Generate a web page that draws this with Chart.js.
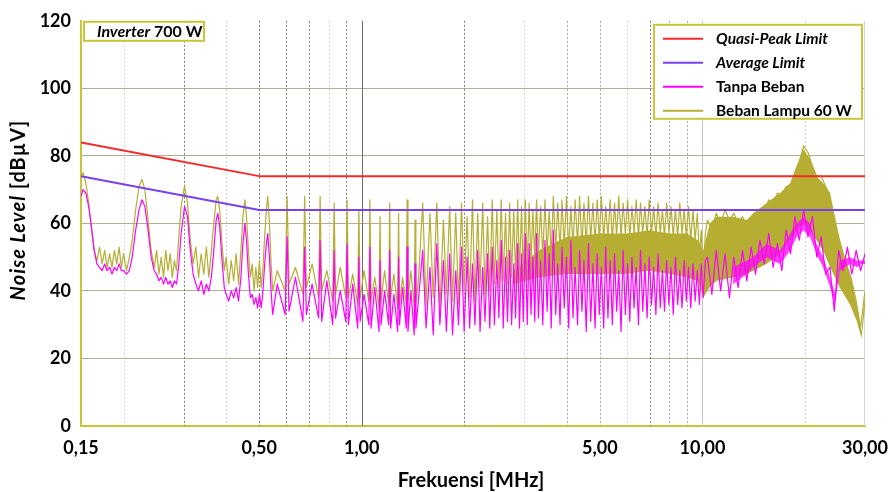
<!DOCTYPE html>
<html><head><meta charset="utf-8">
<script src="https://cdn.jsdelivr.net/npm/chart.js@4.4.1/dist/chart.umd.min.js"></script>
<style>html,body{margin:0;padding:0;background:#fff;}canvas{display:block;}</style>
</head><body>
<canvas id="c" width="893" height="492" style="width:893px;height:492px"></canvas>
<script>
// ---------- DATA ----------
const xTickLabels = [0.15, 0.5, 1, 5, 10, 30];
const yMin = 0, yMax = 120, yStep = 20;
const gridLight = [0.2, 0.4, 0.8, 3, 6, 20];
const gridMedium = [4, 5, 8, 9];
const gridDark = [0.3, 0.5, 0.6, 0.7, 0.9, 2, 7];
const gridSolidLight = [10];
const gridSolidDark = [1];

const legendLabels = ['Quasi-Peak Limit', 'Average Limit', 'Tanpa Beban', 'Beban Lampu 60 W'];
const legendItalic = [true, true, false, false];
const boxLabel = [['Inverter', true], [' 700 W', false]];
const yTitle = [['Noise Level', true], [' [dB\u00B5V]', false]];
const xTitle = 'Frekuensi [MHz]';

// limits
const limitFreq = [0.15, 0.5, 30];
const qpLimit = [84, 74, 74];
const avgLimit = [74, 64, 64];

// frequency points (MHz)
const freqLow = [0.150,0.152,0.155,0.158,0.161,0.164,0.167,0.170,0.173,0.176,
 0.179,0.182,0.185,0.188,0.191,0.194,0.197,0.200,0.204,0.208,
 0.212,0.217,0.222,0.2265,0.231,0.236,0.241,0.246,0.250,0.254,
 0.258,0.262,0.266,0.270,0.274,0.278,0.282,0.286,0.290,0.295,
 0.302,0.308,0.314,0.320,0.326,0.332,0.338,0.344,0.350,0.356,
 0.362,0.368,0.374,0.378,0.383,0.389,0.395,0.400,0.407,0.414,
 0.421,0.428,0.435,0.442,0.448,0.454,0.459,0.465,0.471,0.477,
 0.483,0.489,0.495,0.501,0.507,0.513,0.519,0.525,0.530,0.536,
 0.542,0.548,0.565];
const freqMid1 = [0.596,0.604,0.612,0.639, 0.672,0.680,0.688,0.715, 0.747,0.755,0.763,0.790,
 0.822,0.830,0.838,0.865, 0.898,0.906,0.914,0.941, 0.973,0.981,0.989,1.016,
 1.049,1.057,1.065,1.092, 1.124,1.132,1.140,1.167, 1.200,1.208,1.216,1.243,
 1.275,1.283,1.291,1.318, 1.351,1.359,1.367,1.394, 1.426,1.434,1.442,1.469];
const freqMid2 = [1.510,1.545,1.586,1.621,1.661,1.696,1.737,1.772,1.812,1.847,
 1.888,1.923,1.963,1.998,2.039,2.074,2.114,2.149,2.190,2.225,
 2.265,2.300,2.341,2.376,2.416,2.451,2.492,2.527,2.567,2.602,
 2.643,2.678,2.718,2.753,2.794,2.829,2.869,2.904,2.945,2.980, 3.020];
const freqHigh1 = [3.06,3.10,3.14,3.18,3.22,3.26,3.30,3.35,3.40,3.45,
 3.50,3.55,3.60,3.65,3.71,3.76,3.82,3.87,3.93,3.99,
 4.05,4.11,4.17,4.23,4.30,4.36,4.43,4.49,4.56,4.63,
 4.70,4.77,4.84,4.91,4.98,5.05,5.13,5.20,5.28,5.36,
 5.44,5.52,5.60,5.68,5.77,5.85,5.94,6.03,6.12,6.21,
 6.30,6.39,6.49,6.58,6.68,6.78,6.88,6.98,7.09,7.19,
 7.30,7.41,7.52,7.63,7.74,7.85,7.97,8.09,8.21,8.33,
 8.46,8.58,8.71,8.84,8.97,9.10,9.24,9.38,9.52,9.66,
 9.80,9.92,10.05,10.20];
const freqHigh2 = [10.35,10.66,10.98,11.31,11.65,12.0,12.36,12.73,13.11,13.5,
 13.9,14.32,14.75,15.19,15.65,16.12,16.6,17.1,17.61,18.14,
 18.68,19.24,19.82,20.41,21.03,21.66,22.31,22.98,23.67,24.38,
 25.11,25.86,26.64,27.44,28.26,29.11,30.0];

// Tanpa Beban (dBuV)
const tanpaLow = [68,70,69,65,59,52,48,47,46,48, 46,47,45,47,46,48,46,46,45,46,
 50,58,64,67,65,58,50,46,45,43, 44,42,44,42,43,41,43,42,47,57,
 65,62,52,45,42,40,43,39,42,40, 44,52,61,63,59,49,41,39,37,40,
 38,41,37,44,54,60,55,45,38,39, 36,38,35,39,35,40,48,54,57,50, 40,33,42];
const tanpaMid1 = [33,56,34,44, 31,53,33,42, 32,55,31,43, 30,52,32,40, 31,54,30,42, 29,50,31,39,
 30,53,29,41, 28,49,30,40, 30,52,29,39, 28,50,30,41, 29,53,28,40, 27,48,29,38];
const tanpaMid2 = [52,29,47,27,54,30,49,28,51,27, 46,30,53,28,50,29,48,30,52,28,
 47,31,51,29,53,30,49,32,55,29, 50,31,52,30,48,32,54,29,51,31, 57];
const tanpaHigh1 = [30,54,33,50,31,57,32,49,30,55, 34,51,29,58,33,48,30,53,35,50,
 29,55,32,47,30,52,34,49,28,54, 31,48,29,51,33,47,29,53,32,49,
 30,51,34,46,28,52,33,48,31,50, 35,47,30,52,34,48,32,50,36,47,
 33,51,35,46,34,49,36,47,33,50, 36,46,35,49,37,47,35,48,37,46,
 36,48,38,49];
const tanpaHigh2 = [50,39,52,40,51,38,50,41,52,43, 53,45,55,48,57,47,54,46,58,51,
 62,55,64,56,62,50,56,45,47,34, 52,46,53,45,52,46,51];

// Beban Lampu 60 W (dBuV)
const lampuLow = [74,75,72,66,58,52,49,53,48,52, 47,51,47,52,48,53,47,51,46,50,
 55,64,71,73,70,61,52,47,52,45, 50,44,52,46,51,44,49,46,55,65,
 71,66,55,48,53,44,51,45,53,44, 52,60,67,68,64,54,46,50,42,49,
 43,51,42,52,62,67,62,52,44,48, 40,47,41,49,41,47,56,64,68,60, 48,40,46];
const lampuMid1 = [40,68,42,47, 39,68,41,48, 38,68,40,46, 37,66,39,47, 38,67,38,45, 36,64,38,46,
 37,67,37,44, 35,62,37,46, 36,66,38,45, 35,63,36,44, 36,67,37,46, 35,61,36,44];
const lampuMid2 = [66,36,63,38,66,35,61,39,65,37, 63,36,66,40,62,38,67,37,63,41,
 66,39,62,40,67,42,64,41,67,43, 63,42,66,44,64,43,67,45,65,44, 67];
const lampuHigh1 = [47,66,48,64,49,67,50,65,50,67, 51,64,50,68,52,66,52,67,53,68,
 52,65,53,67,54,68,53,66,54,68, 55,66,54,67,55,68,55,65,56,67,
 55,66,56,68,56,66,57,67,56,65, 57,67,56,66,57,65,56,67,57,65,
 56,66,57,64,56,66,57,65,56,64, 56,66,57,64,56,65,55,64,55,63,
 50,58,44,57];
const lampuHigh2 = [61,58,63,60,64,61,63,60,62,59, 62,61,64,63,67,66,69,68,71,71,
 75,78,83,81,77,74,74,71,68,62, 56,51,47,43,37,29,40];

// dense-band envelopes above 3 MHz (Beban Lampu 60 W)
const bandFreq = [2.8,3.3,4.0,5.0,6.0,7.0,8.0,9.0,9.7,10.05, 10.5,11.0,12.3,13.5,14.1,15.4,16.9,18.1,18.9,19.8,
 20.7,21.6,22.6,23.7,24.5,25.3,27.1,28.4,29.3,30];
const lampuBandTop = [46,52,56,57,57,58,57,57,55,52, 60,62,62,61,63,66,69,72,77,82, 79,74,72,69,61,55,45,36,28,40];
const lampuBandBottom = [42,44,45,45,45,46,45,44,43,38, 41,43,44,45,46,48,51,55,58,60, 58,55,52,47,44,41,36,31,26,35];
// dense core of Tanpa Beban above 12 MHz
const tanpaBandFreq = [12.3,13.5,14.1,15.4,16.9,18.1,18.9,19.8,20.7,21.6,22.6,23.7,24.5,25.3,27.1,28.4,29.3,30];
const tanpaBandTop = [47,49,50,54,52,57,60,62,60,54,50,44,39,49,50,49,49,49];
const tanpaBandBottom = [42,45,47,50,48,52,56,58,56,51,47,41,36,46,48,47,48,48];

// ---------- BUILD ----------
const freqAll = [...freqLow, ...freqMid1, ...freqMid2, ...freqHigh1, ...freqHigh2];
const tanpaAll = [...tanpaLow, ...tanpaMid1, ...tanpaMid2, ...tanpaHigh1, ...tanpaHigh2];
const lampuAll = [...lampuLow, ...lampuMid1, ...lampuMid2, ...lampuHigh1, ...lampuHigh2];
const pts = (xs, ys) => xs.map((f, i) => ({x: f, y: ys[i]}));

const FONT = "Lato, 'Open Sans', sans-serif";
const RED = '#f52a2a', PURPLE = '#7a40ee', MAGENTA = '#ff00ff', OLIVE = '#b6ae33';
const FRAME = '#c8c638', HGRID = '#b0ae96';
const seriesColors = [RED, PURPLE, MAGENTA, OLIVE];

const line = (label, data, color, w, order, extra) => Object.assign({
  label, data, borderColor: color, borderWidth: w, pointRadius: 0, pointHoverRadius: 0,
  tension: 0, fill: false, order, borderJoinStyle: 'round'
}, extra || {});

const decor = {
  id: 'decor',
  beforeDatasetsDraw(chart) {
    const {ctx, chartArea: a, scales: {x}} = chart;
    ctx.save();
    const draw = (vals, color, dash) => {
      ctx.strokeStyle = color; ctx.lineWidth = 1; ctx.setLineDash(dash);
      vals.forEach(v => {
        const px = Math.round(x.getPixelForValue(v)) + 0.5;
        ctx.beginPath(); ctx.moveTo(px, a.top); ctx.lineTo(px, a.bottom); ctx.stroke();
      });
    };
    draw(gridLight, '#d2d2d2', [2, 2]);
    draw(gridMedium, '#a6a6a6', [2, 2]);
    draw(gridDark, '#7c7c7c', [2, 2]);
    draw(gridSolidLight, '#c4c4bc', []);
    draw(gridSolidDark, '#6c6c6c', []);
    ctx.setLineDash([]);
    ctx.strokeStyle = '#d4d4cc';
    ctx.beginPath(); ctx.moveTo(a.right - 0.5, a.top); ctx.lineTo(a.right - 0.5, a.bottom); ctx.stroke();
    ctx.restore();
  },
  afterDraw(chart) {
    const {ctx, chartArea: a} = chart;
    ctx.save();
    // label box
    const bx = a.left + 2, by = a.top, bw = 122, bh = 21;
    ctx.fillStyle = '#fff'; ctx.fillRect(bx, by, bw, bh);
    ctx.strokeStyle = FRAME; ctx.lineWidth = 2; ctx.strokeRect(bx + 1, by + 1, bw - 2, bh - 2);
    ctx.fillStyle = '#000'; ctx.textBaseline = 'middle'; ctx.textAlign = 'left';
    let tx = bx + 14;
    boxLabel.forEach(([t, it]) => {
      ctx.font = (it ? 'italic ' : '') + 'bold 16px ' + FONT;
      ctx.fillText(t, tx, by + bh / 2 + 0.5); tx += ctx.measureText(t).width;
    });
    // legend
    const lw = 210, lh = 96, lx = a.right - 2 - lw, ly = a.top + 3;
    ctx.fillStyle = '#fff'; ctx.fillRect(lx, ly, lw, lh);
    ctx.strokeStyle = FRAME; ctx.lineWidth = 2; ctx.strokeRect(lx + 1, ly + 1, lw - 2, lh - 2);
    legendLabels.forEach((t, i) => {
      const yy = ly + 15 + i * 24;
      ctx.strokeStyle = seriesColors[i]; ctx.lineWidth = 2;
      ctx.beginPath(); ctx.moveTo(lx + 10, yy); ctx.lineTo(lx + 50, yy); ctx.stroke();
      ctx.fillStyle = '#000';
      ctx.font = (legendItalic[i] ? 'italic ' : '') + 'bold 15.5px ' + FONT;
      ctx.fillText(t, lx + 63, yy + 0.5);
    });
    // y title
    ctx.save();
    ctx.translate(18.5, 210);
    ctx.rotate(-Math.PI / 2);
    ctx.letterSpacing = '1px';
    let total = 0;
    yTitle.forEach(([t, it]) => { ctx.font = (it ? 'italic ' : '') + 'bold 20px ' + FONT; total += ctx.measureText(t).width; });
    let yx = -total / 2;
    yTitle.forEach(([t, it]) => {
      ctx.font = (it ? 'italic ' : '') + 'bold 20px ' + FONT;
      ctx.fillText(t, yx, 0); yx += ctx.measureText(t).width;
    });
    ctx.restore();
    // x title
    ctx.font = 'bold 20px ' + FONT; ctx.textAlign = 'center';
    ctx.fillText(xTitle, (a.left + a.right) / 2 - 2, 481);
    ctx.restore();
  }
};

new Chart(document.getElementById('c'), {
  type: 'line',
  data: {
    datasets: [
      line(legendLabels[0], pts(limitFreq, qpLimit), RED, 2, 0),
      line(legendLabels[1], pts(limitFreq, avgLimit), PURPLE, 2, 1),
      line(legendLabels[2], pts(freqAll, tanpaAll), MAGENTA, 1.2, 2),
      line('tanpa-band', pts(tanpaBandFreq, tanpaBandTop), 'transparent', 1, 3, {fill: 4, backgroundColor: 'rgba(255,0,255,0.75)'}),
      line('tanpa-band-low', pts(tanpaBandFreq, tanpaBandBottom), 'transparent', 1, 4),
      line(legendLabels[3], pts(freqAll, lampuAll), OLIVE, 1.2, 5),
      line('lampu-band', pts(bandFreq, lampuBandTop), 'transparent', 1, 6, {fill: 7, backgroundColor: OLIVE}),
      line('lampu-band-low', pts(bandFreq, lampuBandBottom), 'transparent', 1, 7)
    ]
  },
  options: {
    responsive: false, animation: false, devicePixelRatio: 1,
    layout: {padding: {left: 0, right: 28, top: 17, bottom: 0}},
    plugins: {legend: {display: false}, tooltip: {enabled: false}},
    scales: {
      x: {
        type: 'logarithmic', min: 0.15, max: 30,
        afterBuildTicks: s => { s.ticks = xTickLabels.map(v => ({value: v})); },
        afterFit: s => { s.height = 66; s.paddingLeft = 0; s.paddingRight = 0; },
        ticks: {autoSkip: false, maxRotation: 0, padding: 11, color: '#000',
          font: {family: FONT, size: 18, weight: 'bold'},
          callback: v => Number(v).toFixed(2).replace('.', ',')},
        grid: {display: false, drawTicks: false},
        border: {display: true, color: FRAME, width: 2}
      },
      y: {
        min: yMin, max: yMax,
        afterFit: s => { s.width = 81; },
        ticks: {stepSize: yStep, padding: 10, color: '#000', font: {family: FONT, size: 18, weight: 'bold'}},
        grid: {drawTicks: false, color: c => (c.tick && (c.tick.value === yMin || c.tick.value === yMax)) ? 'rgba(0,0,0,0)' : HGRID, lineWidth: 1},
        border: {display: true, color: FRAME, width: 2}
      }
    }
  },
  plugins: [decor]
});
</script>
</body></html>
